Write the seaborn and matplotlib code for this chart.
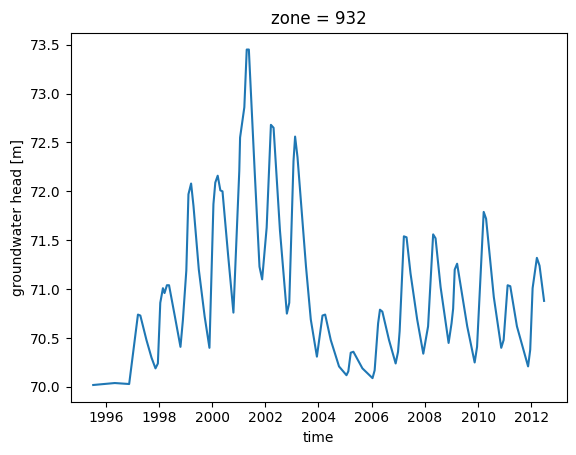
import numpy as np
import pandas as pd
import matplotlib
matplotlib.use("Agg")
import matplotlib.pyplot as plt
import matplotlib.dates as mdates
import seaborn as sns

years = [1995.53, 1996.34, 1996.88, 1997.21, 1997.30, 1997.53, 1997.72, 1997.87, 1997.96,
         1998.05, 1998.15, 1998.21, 1998.30, 1998.38, 1998.60, 1998.81, 1998.90,
         1999.03, 1999.11, 1999.21, 1999.30, 1999.50, 1999.72, 1999.90,
         2000.05, 2000.12, 2000.21, 2000.31, 2000.39, 2000.60, 2000.80,
         2001.02, 2001.05, 2001.21, 2001.30, 2001.38, 2001.60, 2001.78, 2001.88,
         2002.05, 2002.21, 2002.31, 2002.55, 2002.81, 2002.90,
         2003.06, 2003.12, 2003.21, 2003.53, 2003.71, 2003.94, 2004.15, 2004.25,
         2004.46, 2004.77, 2005.05, 2005.12, 2005.21, 2005.31, 2005.65, 2006.03,
         2006.11, 2006.24, 2006.31, 2006.40, 2006.65, 2006.90, 2006.99, 2007.05,
         2007.21, 2007.31, 2007.46, 2007.71, 2007.94, 2008.12,
         2008.31, 2008.40, 2008.59, 2008.89, 2009.00, 2009.06,
         2009.12, 2009.21, 2009.59, 2009.87, 2009.96,
         2010.21, 2010.30, 2010.59, 2010.87, 2010.96,
         2011.11, 2011.21, 2011.46, 2011.88, 2011.96,
         2012.05, 2012.21, 2012.31, 2012.48]
heads = [70.02, 70.04, 70.03, 70.74, 70.73, 70.48, 70.30, 70.19, 70.24,
         70.86, 71.01, 70.96, 71.04, 71.04, 70.72, 70.41, 70.68,
         71.19, 71.97, 72.08, 71.85, 71.20, 70.72, 70.40,
         71.87, 72.09, 72.16, 72.01, 72.00, 71.35, 70.76,
         72.21, 72.55, 72.86, 73.45, 73.45, 72.20, 71.23, 71.10,
         71.63, 72.68, 72.65, 71.60, 70.75, 70.86,
         72.31, 72.56, 72.35, 71.23, 70.69, 70.31, 70.73, 70.74,
         70.48, 70.21, 70.12, 70.16, 70.35, 70.36, 70.19, 70.09,
         70.17, 70.65, 70.79, 70.77, 70.48, 70.24, 70.36, 70.57,
         71.54, 71.53, 71.16, 70.69, 70.34, 70.62,
         71.56, 71.52, 71.02, 70.45, 70.65, 70.80,
         71.20, 71.26, 70.62, 70.25, 70.41,
         71.79, 71.72, 70.92, 70.40, 70.48,
         71.04, 71.03, 70.62, 70.21, 70.38,
         71.01, 71.32, 71.24, 70.88]


def to_date(y):
    year = int(y)
    start = pd.Timestamp(year=year, month=1, day=1)
    end = pd.Timestamp(year=year + 1, month=1, day=1)
    return start + (end - start) * (y - year)


df = pd.DataFrame({"time": [to_date(y) for y in years], "head": heads})

fig = plt.figure(figsize=(5.76, 4.55), dpi=100)
ax = fig.add_axes([0.1227, 0.117, 0.861, 0.811])
sns.lineplot(data=df, x="time", y="head", ax=ax, color="#1f77b4", linewidth=1.5)

ax.xaxis.set_major_locator(mdates.YearLocator(2))
ax.xaxis.set_major_formatter(mdates.DateFormatter("%Y"))
ax.set_xlabel("time")
ax.set_ylabel("groundwater head [m]")
ax.set_title("zone = 932")

fig.savefig("out.png", dpi=100)
